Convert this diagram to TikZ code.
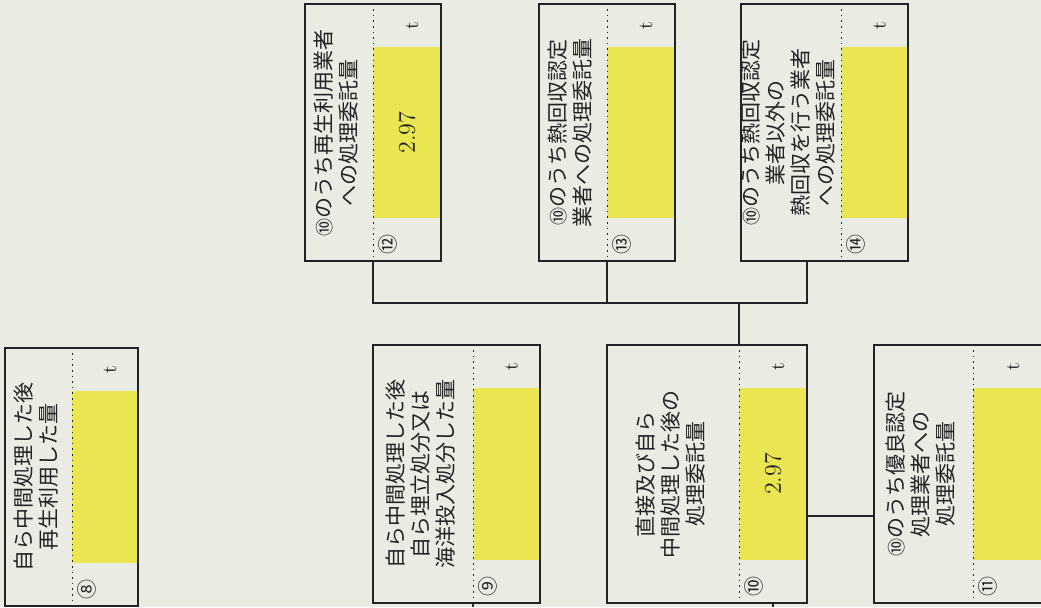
\documentclass[tikz,border=0pt]{standalone}
\usepackage{fontspec}
\usepackage{graphicx}
\newfontfamily\jpfont{Noto Sans CJK JP}
\definecolor{paper}{RGB}{234,235,226}
\definecolor{fieldyellow}{RGB}{233,230,82}
\definecolor{ink}{RGB}{35,35,35}
\newcommand{\cn}[1]{{\fontsize{9}{9}\selectfont #1}}

\begin{document}
\begin{tikzpicture}[x=0.5pt,y=-0.5pt,
        lab/.style={inner sep=0pt,text=ink,font=\jpfont\fontsize{10.5}{12.2}\selectfont},
        val/.style={inner sep=0pt,text=ink,font=\fontsize{12}{12}\selectfont},
        frame/.style={draw=ink,line width=1pt},
        divider/.style={ink,dotted,line width=0.8pt},
        field/.style={fill=fieldyellow},
        unit/.style={rotate=90,inner sep=0pt,text=ink,font=\fontsize{10}{10}\selectfont},
        num/.style={rotate=90,inner sep=0pt,text=ink,font=\jpfont\fontsize{10}{10}\selectfont},
        link/.style={ink,line width=1pt}
    ]
        \useasboundingbox (0,0) rectangle (1041,607);
        \fill[paper] (0,0) rectangle (1041,607);

        % Define the panels: number/left/divider/right/top/bottom/mark/label/value
        \foreach \n/\L/\D/\R/\T/\B/\c/\txt/\v in {
            8/5/72/138/348/606/⑧/{自ら中間処理した後\\再生利用した量}/{},
            9/373/473/540/345/603/⑨/{自ら中間処理した後\\自ら埋立処分又は\\海洋投入処分した量}/{},
            10/607/739/807/345/603/⑩/{直接及び自ら\\中間処理した後の\\処理委託量}/{2.97},
            11/874/973/1043/345/603/⑪/{\cn{⑩}のうち優良認定\\処理業者への\\処理委託量}/{},
            12/305/373/441/4/261/⑫/{\cn{⑩}のうち再生利用業者\\への処理委託量}/{2.97},
            13/539/607/675/4/261/⑬/{\cn{⑩}のうち熱回収認定\\業者への処理委託量}/{},
            14/741/841/908/4/261/⑭/{\cn{⑩}のうち熱回収認定\\業者以外の\\熱回収を行う業者\\への処理委託量}/{}}
        {
            \fill[field] (\D,{\T+43}) rectangle (\R,{\B-43});
            \node[lab,minimum width={(\D-\L)*0.5pt},minimum height={(\B-\T)*0.5pt}] (lab\n)
                at ({(\L+\D)/2},{(\T+\B)/2}) {\rotatebox{90}{\begin{tabular}{@{}c@{}}\txt\end{tabular}}};
            \node[val,minimum width={(\R-\D)*0.5pt},minimum height={(\B-\T)*0.5pt}] (val\n)
                at ({(\D+\R)/2},{(\T+\B)/2}) {\rotatebox{90}{\v}};
            \draw[frame] (lab\n.north west) rectangle (val\n.south east);
            \draw[divider] (lab\n.north east) -- (lab\n.south east);
            \node[unit] (t\n) at ([xshift=2.5pt,yshift=-11pt]val\n.north) {t};
            \node[num] (no\n) at ([xshift=7.5pt,yshift=8.5pt]val\n.south west) {\c};
        }

        % Connectors
        \coordinate (j) at (lab10.north east |- 0,303);
        \draw[link] (lab12.south east) |- (j) -| ([xshift=8pt]lab14.south);
        \draw[link] (lab13.south east) -- (lab13.south east |- j);
        \draw[link] (j) -- (lab10.north east);
        \draw[link] (val10.east |- 0,516) -- (lab11.west |- 0,516);
        \coordinate (down9) at (lab9.south east |- 0,607);
        \coordinate (down10) at (val10.south |- 0,607);
        \draw[link] (lab9.south east) -- (down9);
        \draw[link] (val10.south) -- (down10);
    \end{tikzpicture}
\end{document}
